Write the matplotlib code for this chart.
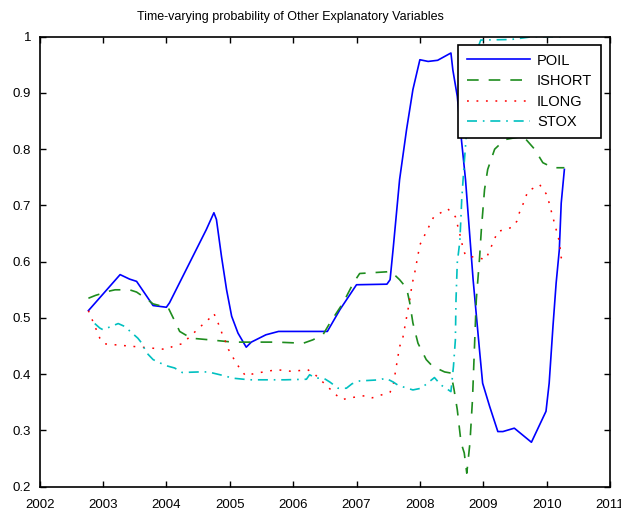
import matplotlib
matplotlib.use("Agg")
import matplotlib.pyplot as plt

plt.rcParams['font.family'] = ['Liberation Sans', 'DejaVu Sans']

# values
poil_t = [2002.77, 2003.27, 2003.42, 2003.53, 2003.79, 2004.0, 2004.05, 2004.63, 2004.75,
          2004.79, 2004.87, 2004.95, 2005.03, 2005.13, 2005.26, 2005.34, 2005.57, 2005.77,
          2006.54, 2006.74, 2007.0, 2007.48, 2007.53, 2007.58, 2007.68, 2007.79, 2007.89,
          2008.0, 2008.13, 2008.28, 2008.49, 2008.52, 2008.59, 2008.65, 2008.72, 2008.78,
          2008.84, 2008.94, 2008.99, 2009.10, 2009.23, 2009.31, 2009.49, 2009.76, 2009.99,
          2010.04, 2010.10, 2010.15, 2010.20, 2010.23, 2010.28]
poil = [0.513, 0.577, 0.569, 0.565, 0.522, 0.519, 0.527, 0.657, 0.687,
        0.675, 0.609, 0.55, 0.503, 0.473, 0.448, 0.457, 0.47, 0.476,
        0.476, 0.515, 0.559, 0.560, 0.568, 0.625, 0.746, 0.835, 0.906,
        0.959, 0.956, 0.958, 0.971, 0.941, 0.894, 0.823, 0.746, 0.657,
        0.568, 0.444, 0.384, 0.343, 0.298, 0.298, 0.304, 0.279, 0.334,
        0.384, 0.485, 0.562, 0.621, 0.704, 0.764]

ishort_t = [2002.77, 2002.88, 2003.11, 2003.19, 2003.42, 2003.53, 2003.71, 2003.79, 2004.03,
            2004.16, 2004.21, 2004.39, 2004.69, 2005.05, 2005.37, 2005.74, 2006.16, 2006.31,
            2006.47, 2006.58, 2006.79, 2006.95, 2007.05, 2007.48, 2007.54, 2007.68, 2007.79,
            2007.84, 2007.89, 2007.97, 2008.10, 2008.20, 2008.39, 2008.49, 2008.54, 2008.59,
            2008.65, 2008.70, 2008.74, 2008.79, 2008.83, 2008.86, 2008.89, 2008.94, 2008.97,
            2009.02, 2009.07, 2009.18, 2009.34, 2009.63, 2009.81, 2009.94, 2010.10, 2010.28]
ishort = [0.535, 0.54, 0.548, 0.55, 0.55, 0.546, 0.532, 0.525, 0.518,
          0.488, 0.476, 0.464, 0.461, 0.457, 0.457, 0.457, 0.455, 0.461,
          0.47, 0.491, 0.527, 0.562, 0.579, 0.582, 0.583, 0.568, 0.553,
          0.527, 0.491, 0.455, 0.426, 0.414, 0.404, 0.402, 0.372, 0.337,
          0.278, 0.26, 0.224, 0.278, 0.355, 0.444, 0.532, 0.604, 0.657,
          0.728, 0.764, 0.80, 0.817, 0.823, 0.80, 0.776, 0.767, 0.767]

ilong_t = [2002.77, 2002.95, 2003.02, 2004.0, 2004.13, 2004.25, 2004.59, 2004.69, 2004.75,
           2004.85, 2004.89, 2004.95, 2004.98, 2005.11, 2005.25, 2005.38, 2005.74, 2005.98,
           2006.23, 2006.33, 2006.69, 2006.78, 2006.90, 2007.15, 2007.25, 2007.53, 2007.58,
           2007.68, 2007.73, 2007.84, 2007.88, 2007.91, 2008.0, 2008.22, 2008.44, 2008.56,
           2008.65, 2008.68, 2008.72, 2009.04, 2009.23, 2009.35, 2009.47, 2009.53, 2009.57,
           2009.66, 2009.70, 2009.89, 2010.01, 2010.04, 2010.20, 2010.23, 2010.28]
ilong = [0.513, 0.464, 0.454, 0.444, 0.451, 0.454, 0.49, 0.50, 0.508,
         0.482, 0.468, 0.454, 0.444, 0.418, 0.397, 0.401, 0.408, 0.405,
         0.408, 0.401, 0.362, 0.355, 0.358, 0.362, 0.358, 0.368, 0.381,
         0.449, 0.464, 0.532, 0.562, 0.575, 0.63, 0.68, 0.694, 0.68,
         0.64, 0.624, 0.611, 0.604, 0.654, 0.657, 0.662, 0.672, 0.687,
         0.711, 0.725, 0.737, 0.718, 0.704, 0.636, 0.607, 0.60]

stox_t = [2002.87, 2002.95, 2003.0, 2003.24, 2003.34, 2003.55, 2003.62, 2003.68, 2003.79,
          2003.86, 2004.0, 2004.13, 2004.25, 2004.52, 2004.66, 2004.92, 2005.04, 2005.31,
          2005.87, 2006.21, 2006.26, 2006.36, 2006.48, 2006.58, 2006.71, 2006.84, 2006.93,
          2007.05, 2007.37, 2007.46, 2007.58, 2007.66, 2007.89, 2008.02, 2008.23, 2008.33,
          2008.49, 2008.53, 2008.56, 2008.57, 2008.59, 2008.63, 2008.65, 2008.66, 2008.70,
          2008.73, 2008.85, 2008.96, 2009.44, 2009.78, 2010.28]
stox = [0.49, 0.482, 0.479, 0.49, 0.485, 0.464, 0.454, 0.439, 0.426,
        0.422, 0.415, 0.411, 0.403, 0.404, 0.404, 0.397, 0.393, 0.39,
        0.39, 0.391, 0.399, 0.393, 0.393, 0.386, 0.375, 0.375, 0.383,
        0.388, 0.39, 0.393, 0.386, 0.38, 0.372, 0.375, 0.394, 0.381,
        0.369, 0.414, 0.461, 0.532, 0.598, 0.636, 0.684, 0.71, 0.776,
        0.82, 0.96, 0.994, 0.995, 1.0, 1.0]

years = list(range(2002, 2012))
yticks = [0.2, 0.3, 0.4, 0.5, 0.6, 0.7, 0.8, 0.9, 1.0]
ylabels = ['0.2', '0.3', '0.4', '0.5', '0.6', '0.7', '0.8', '0.9', '1']

fig = plt.figure(figsize=(6.21, 5.13), dpi=100)
ax = fig.add_axes([0.0638, 0.0513, 0.9185, 0.8772])

ax.plot(poil_t, poil, color='#0000ff', lw=1.2, label='POIL')
ax.plot(ishort_t, ishort, color='#1e8c1e', lw=1.2, dashes=(7, 6), label='ISHORT')
ax.plot(ilong_t, ilong, color='#ff0000', lw=1.1, dashes=(1.2, 5), label='ILONG')
ax.plot(stox_t, stox, color='#00c0c0', lw=1.2, dashes=(6, 3.5, 1, 3.5), label='STOX')

ax.set_xlim(2002, 2011)
ax.set_ylim(0.2, 1.0)
ax.set_xticks(years)
ax.set_xticklabels([str(y) for y in years])
ax.set_yticks(yticks)
ax.set_yticklabels(ylabels)
ax.tick_params(direction='in', length=4, width=1, top=True, right=True, labelsize=9.5)
ax.tick_params(axis='x', pad=9)
ax.tick_params(axis='y', pad=6)
for s in ax.spines.values():
    s.set_linewidth(1.2)

leg = ax.legend(loc='upper right', bbox_to_anchor=(0.984, 0.982), borderaxespad=0,
                fancybox=False, framealpha=1, edgecolor='black', fontsize=10.5,
                handlelength=4.3, handletextpad=0.5, labelspacing=0.45, borderpad=0.6)
leg.get_frame().set_linewidth(1.2)

fig.text(290 / 621, 1 - 17 / 513, 'Time-varying probability of Other Explanatory Variables',
         ha='center', va='center', fontsize=9)

fig.savefig('out.png', dpi=100)
